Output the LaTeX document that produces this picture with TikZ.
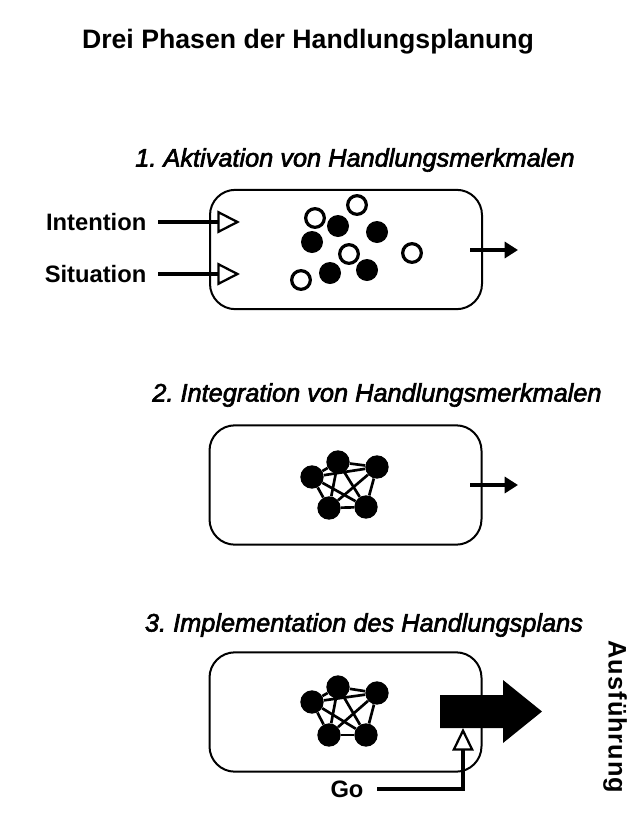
\documentclass[tikz,border=0pt]{standalone}
\usepackage{fontspec}
\setmainfont{Liberation Sans}
\newfontfamily\headfont[FakeBold=2.5, ItalicFeatures={FakeBold=2.5}]{Liberation Sans}
\usetikzlibrary{arrows.meta}

\begin{document}
\frenchspacing
\begin{tikzpicture}[x=0.75pt,y=-0.75pt,
  phase/.style={draw, line width=1.5pt, rounded corners=19pt, rectangle,
    inner sep=0pt, minimum width=204pt, minimum height=89.5pt},
  heading/.style={font=\fontsize{19pt}{21pt}\headfont\itshape},
  label/.style={font=\fontsize{17.8pt}{20pt}\selectfont\bfseries},
  opencell/.style={circle, draw, line width=2.4pt, fill=white, minimum size=14pt, inner sep=0pt},
  fullcell/.style={circle, fill=black, minimum size=16.5pt, inner sep=0pt},
  netcell/.style={circle, fill=black, minimum size=17.5pt, inner sep=0pt},
  link/.style={line width=2pt},
  feed/.style={line width=2.4pt, -{Triangle[open, length=17pt, width=17pt, line width=1.7pt]}},
  outflow/.style={line width=2.4pt, -{Triangle[length=10pt, width=12pt]}}
]
\useasboundingbox (0,0) rectangle (627,825);

% title
\node[font=\fontsize{20pt}{22pt}\selectfont\bfseries] (title) at (308,42) {Drei Phasen der Handlungsplanung};

% ---------- phase 1: activation ----------
\node[heading] (h1) at (355,160) {1. Aktivation von Handlungsmerkmalen};
\node[phase] (box1) at (346,249.5) {};

\node[label, anchor=east] (intention) at (151,222) {Intention};
\node[label, anchor=east] (situation) at (151,274) {Situation};
\coordinate (in1) at (240,222);
\coordinate (in2) at (240,274);
\draw[feed] (intention.east) ++(7,0) coordinate (s1) (s1) -- (in1);
\draw[feed] (situation.east) ++(7,0) coordinate (s2) (s2) -- (in2);

\node[opencell] (o1) at (357,205) {};
\node[opencell] (o2) at (315,218) {};
\node[opencell] (o3) at (349,254) {};
\node[opencell] (o4) at (412,253) {};
\node[opencell] (o5) at (301,280) {};
\node[fullcell] (f1) at (338,226) {};
\node[fullcell] (f2) at (377,232) {};
\node[fullcell] (f3) at (312,242) {};
\node[fullcell] (f4) at (330,273) {};
\node[fullcell] (f5) at (367,270) {};

\coordinate (out1) at (518,250);
\draw[outflow] (470,250) coordinate (o1s) -- (out1);

% ---------- phase 2: integration ----------
\node[heading] (h2) at (377,395) {2. Integration von Handlungsmerkmalen};
\node[phase] (box2) at (345.5,485) {};

\foreach \n/\x/\y in {a/338/462, b/377/467, c/312/477, d/329/508, e/366/507}
  \node[netcell] (n2\n) at (\x,\y) {};
\foreach \u/\v in {a/b,a/c,a/d,a/e,b/c,b/d,b/e,c/d,c/e,d/e}
  \draw[link] (n2\u) -- (n2\v);

\coordinate (out2) at (518,485);
\draw[outflow] (470,485) coordinate (o2s) -- (out2);

% ---------- phase 3: implementation ----------
\node[heading] (h3) at (364,625) {3. Implementation des Handlungsplans};
\node[phase] (box3) at (345.5,712) {};

\foreach \n/\x/\y in {a/338/687, b/377/693, c/312/702, d/329/735, e/366/735}
  \node[netcell] (n3\n) at (\x,\y) {};
\foreach \u/\v in {a/b,a/c,a/d,a/e,b/c,b/d,b/e,c/d,c/e,d/e}
  \draw[link] (n3\u) -- (n3\v);

% execution arrow
\fill (440,695) -- (503,695) -- (503,680) -- (542,711.5) -- (503,743) -- (503,728) -- (440,728) -- cycle;

\node[font=\fontsize{19pt}{21pt}\selectfont\bfseries\addfontfeatures{LetterSpace=4}, rotate=-90] (exec) at (615,717) {Ausführung};

% go signal
\node[label] (go) at (347,789) {Go};
\coordinate (gocorner) at (463,789);
\coordinate (gotip) at (463,728);
\draw[line width=2.4pt, -{Triangle[open, length=17pt, width=16pt, line width=1.7pt]}]
  (go.east) ++(9,0) coordinate (gostart) (gostart) -- (gocorner) -- (gotip);

\end{tikzpicture}
\end{document}
